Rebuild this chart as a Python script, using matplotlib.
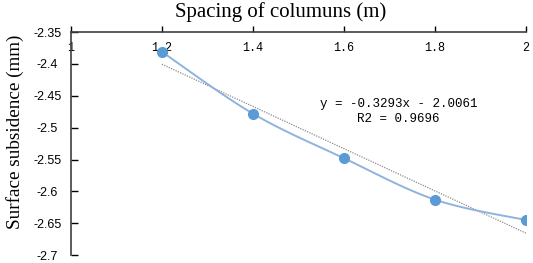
"""Surface subsidence against column spacing, Excel-style smoothed line."""

import numpy as np
import matplotlib

matplotlib.use("Agg")
import matplotlib.pyplot as plt

spacing = [1.2, 1.4, 1.6, 1.8, 2.0]
subsidence = [-2.381, -2.478, -2.548, -2.613, -2.645]
x_ticks = [1, 1.2, 1.4, 1.6, 1.8, 2]
x_tick_labels = ["1", "1.2", "1.4", "1.6", "1.8", "2"]
y_ticks = [-2.35, -2.4, -2.45, -2.5, -2.55, -2.6, -2.65, -2.7]
y_tick_labels = ["-2.35", "-2.4", "-2.45", "-2.5", "-2.55", "-2.6", "-2.65", "-2.7"]
fit_text = "y = -0.3293x - 2.0061\nR2 = 0.9696"

_MARKER = "#5B9BD5"
_LINE = "#8EB4DE"


def _smooth(xs, ys, steps=30):
    """Catmull-Rom curve through the points, like Excel's smoothed line."""
    pts = np.column_stack([xs, ys])
    padded = np.vstack([pts[0], pts, pts[-1]])
    out = []
    for i in range(1, len(padded) - 2):
        p0, p1, p2, p3 = padded[i - 1], padded[i], padded[i + 1], padded[i + 2]
        for t in np.linspace(0, 1, steps, endpoint=False):
            out.append(
                0.5
                * (
                    2 * p1
                    + (-p0 + p2) * t
                    + (2 * p0 - 5 * p1 + 4 * p2 - p3) * t**2
                    + (-p0 + 3 * p1 - 3 * p2 + p3) * t**3
                )
            )
    out.append(pts[-1])
    out = np.array(out)
    return out[:, 0], out[:, 1]


fig = plt.figure(figsize=(5.33, 2.63), dpi=100)
ax = fig.add_axes([0.133, 0.030, 0.854, 0.848])

sx, sy = _smooth(spacing, subsidence)
ax.plot(sx, sy, color=_LINE, linewidth=1.4, zorder=2)
ax.plot(spacing, subsidence, "o", color=_MARKER, markersize=7, zorder=3)

slope, intercept = np.polyfit(spacing, subsidence, 1)
fit_x = np.array([spacing[0], spacing[-1]])
ax.plot(fit_x, slope * fit_x + intercept, color="#8C8C8C", linestyle=(0, (1, 1)),
        linewidth=0.9, zorder=1)

ax.set_xlim(1, 2)
ax.set_ylim(-2.7, -2.35)
ax.xaxis.tick_top()
ax.set_xticks(x_ticks, x_tick_labels, fontfamily="Liberation Mono", fontsize=8.5)
ax.set_yticks(y_ticks, y_tick_labels, fontfamily="Liberation Sans", fontsize=9)
ax.tick_params(axis="x", direction="out", length=4, pad=-20, width=1)
ax.tick_params(axis="y", direction="in", length=5, width=1, pad=17)
for label in ax.get_yticklabels():
    label.set_horizontalalignment("center")

for side in ("bottom", "right"):
    ax.spines[side].set_visible(False)
for side in ("top", "left"):
    ax.spines[side].set_color("#404040")
    ax.spines[side].set_linewidth(1.2)

ax.text(1.72, -2.475, fit_text, fontfamily="Liberation Mono", fontsize=9,
        ha="center", va="center", linespacing=1.35)

fig.text(0.527, 0.954, "Spacing of columuns (m)", fontfamily="Liberation Serif",
         fontsize=15, ha="center", va="center")
fig.text(0.028, 0.50, "Surface subsidence (mm)", fontfamily="Liberation Serif",
         fontsize=13.8, rotation=90, ha="center", va="center")

fig.savefig("out.png", dpi=100)
